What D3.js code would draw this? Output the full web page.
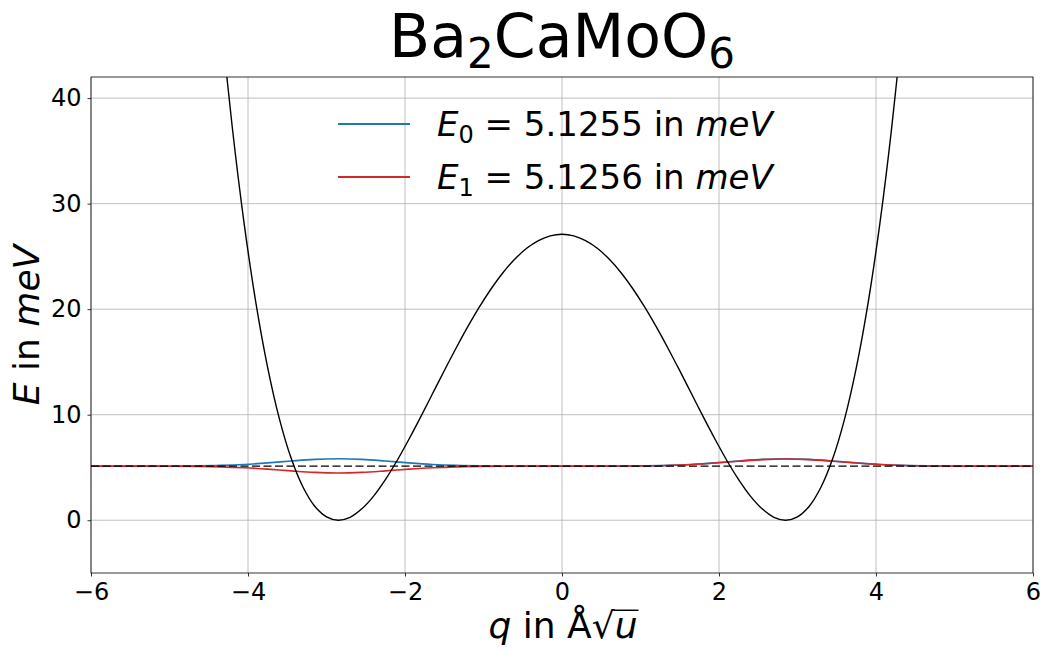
<!DOCTYPE html>
<html>
<head>
<meta charset="utf-8">
<script src="https://cdn.jsdelivr.net/npm/d3@7"></script>
<style>
    body { margin: 0; background: #fff; }
    svg { font-family: "DejaVu Sans", sans-serif; }
</style>
</head>
<body>
<div id="chart"></div>
<script>
// Double well potential + first two levels

const xTicks = [-6, -4, -2, 0, 2, 4, 6];
const yTicks = [0, 10, 20, 30, 40];

const levelE0 = 5.1255;
const levelE1 = 5.1256;

// potential V(q)
const potQ = [-4.35, -4.2, -4.05, -3.9, -3.75, -3.6, -3.45, -3.3, -3.15, -3.0,
    -2.85, -2.7, -2.55, -2.4, -2.25, -2.1, -1.95, -1.8, -1.65, -1.5,
    -1.35, -1.2, -1.05, -0.9, -0.75, -0.6, -0.45, -0.3, -0.15, 0,
    0.15, 0.3, 0.45, 0.6, 0.75, 0.9, 1.05, 1.2, 1.35, 1.5,
    1.65, 1.8, 1.95, 2.1, 2.25, 2.4, 2.55, 2.7, 2.85, 3.0,
    3.15, 3.3, 3.45, 3.6, 3.75, 3.9, 4.05, 4.2, 4.35];
const potE = [47.91, 37.21, 28.16, 20.63, 14.49, 9.61, 5.87, 3.15, 1.33, 0.32,
    0, 0.28, 1.08, 2.29, 3.85, 5.66, 7.67, 9.79, 11.98, 14.17,
    16.30, 18.34, 20.24, 21.96, 23.48, 24.75, 25.77, 26.50, 26.95, 27.10,
    26.95, 26.50, 25.77, 24.75, 23.48, 21.96, 20.24, 18.34, 16.30, 14.17,
    11.98, 9.79, 7.67, 5.66, 3.85, 2.29, 1.08, 0.28, 0, 0.32,
    1.33, 3.15, 5.87, 9.61, 14.49, 20.63, 28.16, 37.21, 47.91];

// wave functions, drawn as offsets from their level
const waveQ = [-6, -5.25, -4.95, -4.65, -4.35, -4.05, -3.75, -3.45, -3.15, -2.85,
    -2.55, -2.25, -1.95, -1.65, -1.35, -1.05, -0.75, -0.45, -0.15,
    0.15, 0.45, 0.75, 1.05, 1.35, 1.65, 1.95, 2.25, 2.55, 2.85,
    3.15, 3.45, 3.75, 4.05, 4.35, 4.65, 4.95, 5.25, 6];
const psi0 = [0, 0.002, 0.008, 0.026, 0.071, 0.161, 0.307, 0.485, 0.638, 0.70,
    0.638, 0.485, 0.307, 0.161, 0.071, 0.026, 0.008, 0.002, 0,
    0, 0.002, 0.008, 0.026, 0.071, 0.161, 0.307, 0.485, 0.638, 0.70,
    0.638, 0.485, 0.307, 0.161, 0.071, 0.026, 0.008, 0.002, 0];
const psi1 = [0, -0.002, -0.008, -0.025, -0.066, -0.150, -0.285, -0.450, -0.592, -0.65,
    -0.592, -0.450, -0.285, -0.150, -0.066, -0.025, -0.008, -0.002, 0,
    0, 0.002, 0.008, 0.025, 0.068, 0.155, 0.296, 0.468, 0.615, 0.675,
    0.615, 0.468, 0.296, 0.155, 0.068, 0.025, 0.008, 0.002, 0];

const width = 1046, height = 651;
const margin = { top: 77, right: 13, bottom: 78, left: 91 };

const svg = d3.select('#chart')
    .append('svg')
    .attr('width', width)
    .attr('height', height);

const x = d3.scaleLinear().domain([-6, 6]).range([margin.left, width - margin.right]);
const y = d3.scaleLinear().domain([-5, 42]).range([height - margin.bottom, margin.top]);

svg.append('clipPath').attr('id', 'plot-clip')
    .append('rect')
    .attr('x', margin.left).attr('y', margin.top)
    .attr('width', x.range()[1] - x.range()[0])
    .attr('height', y.range()[0] - y.range()[1]);

// Grid
const grid = svg.append('g').attr('stroke', '#b0b0b0').attr('stroke-width', 0.8);
grid.selectAll('.gx').data(xTicks).join('line')
    .attr('x1', d => x(d)).attr('x2', d => x(d))
    .attr('y1', y.range()[1]).attr('y2', y.range()[0]);
grid.selectAll('.gy').data(yTicks).join('line')
    .attr('y1', d => y(d)).attr('y2', d => y(d))
    .attr('x1', x.range()[0]).attr('x2', x.range()[1]);

// Curves
const plot = svg.append('g').attr('clip-path', 'url(#plot-clip)').attr('fill', 'none');

const waveLine = (level, psi) => d3.line()
    .x((d, i) => x(waveQ[i]))
    .y((d, i) => y(level + psi[i]))
    .curve(d3.curveCatmullRom)(waveQ);

plot.append('path')
    .attr('d', waveLine(levelE0, psi0))
    .attr('stroke', '#1f77b4').attr('stroke-width', 1.6);

plot.append('path')
    .attr('d', waveLine(levelE1, psi1))
    .attr('stroke', '#d62728').attr('stroke-width', 1.6);

plot.append('line')
    .attr('x1', x(-6)).attr('x2', x(6))
    .attr('y1', y(levelE0)).attr('y2', y(levelE0))
    .attr('stroke', '#000').attr('stroke-width', 1.4)
    .attr('stroke-dasharray', '8,3.5');

plot.append('path')
    .attr('d', d3.line()
        .x((d, i) => x(potQ[i]))
        .y(d => y(d))
        .curve(d3.curveCatmullRom)(potE))
    .attr('stroke', '#000').attr('stroke-width', 1.4);

// Axes
const xAxis = svg.append('g')
    .attr('transform', `translate(0,${y.range()[0]})`)
    .call(d3.axisBottom(x).tickValues(xTicks).tickSize(3.5).tickPadding(6));
const yAxis = svg.append('g')
    .attr('transform', `translate(${x.range()[0]},0)`)
    .call(d3.axisLeft(y).tickValues(yTicks).tickSize(3.5).tickPadding(6));

[xAxis, yAxis].forEach(a => {
    a.select('.domain').remove();
    a.selectAll('text').attr('font-size', 24).attr('fill', '#000')
        .attr('font-family', '"DejaVu Sans", sans-serif');
    a.selectAll('line').attr('stroke', '#000').attr('stroke-width', 0.8);
});

svg.append('rect')
    .attr('x', x.range()[0]).attr('y', y.range()[1])
    .attr('width', x.range()[1] - x.range()[0])
    .attr('height', y.range()[0] - y.range()[1])
    .attr('fill', 'none').attr('stroke', '#000').attr('stroke-width', 0.8);

// Title
const title = svg.append('text')
    .attr('x', 562).attr('y', 57)
    .attr('text-anchor', 'middle')
    .attr('font-size', 60);
title.append('tspan').text('Ba');
title.append('tspan').attr('font-size', 42).attr('dy', 11).text('2');
title.append('tspan').attr('dy', -11).text('CaMoO');
title.append('tspan').attr('font-size', 42).attr('dy', 11).text('6');

// Axis labels
const labelSize = 36;
const xLabel = svg.append('text')
    .attr('x', 563).attr('y', 638)
    .attr('text-anchor', 'middle')
    .attr('font-size', labelSize);
xLabel.append('tspan').attr('font-style', 'italic').text('q');
xLabel.append('tspan').text(' in Å√');
xLabel.append('tspan').attr('font-style', 'italic').text('u');

const xl = xLabel.node();
const n = xl.getNumberOfChars();
const barStart = xl.getEndPositionOfChar(n - 2).x - 1;
const barEnd = xl.getEndPositionOfChar(n - 1).x + 1;
svg.append('line')
    .attr('x1', barStart).attr('x2', barEnd)
    .attr('y1', 638 - labelSize * 0.77).attr('y2', 638 - labelSize * 0.77)
    .attr('stroke', '#000').attr('stroke-width', 1.5);

const yLabel = svg.append('text')
    .attr('transform', `translate(39,${(y.range()[0] + y.range()[1]) / 2}) rotate(-90)`)
    .attr('text-anchor', 'middle')
    .attr('font-size', labelSize);
yLabel.append('tspan').attr('font-style', 'italic').text('E');
yLabel.append('tspan').text(' in ');
yLabel.append('tspan').attr('font-style', 'italic').text('meV');

// Legend
const legendItems = [
    { sub: '0', value: levelE0.toFixed(4), color: '#1f77b4' },
    { sub: '1', value: levelE1.toFixed(4), color: '#d62728' }
];

const legend = svg.append('g')
    .selectAll('g')
    .data(legendItems)
    .join('g')
    .attr('transform', (d, i) => `translate(338,${124 + i * 53})`);

legend.append('line')
    .attr('x1', 0).attr('x2', 72)
    .attr('stroke', d => d.color).attr('stroke-width', 2);

const lt = legend.append('text')
    .attr('x', 99).attr('y', 12)
    .attr('font-size', 34)
    .attr('xml:space', 'preserve');
lt.append('tspan').attr('font-style', 'italic').text('E');
lt.append('tspan').attr('font-size', 24).attr('dy', 7).text(d => d.sub);
lt.append('tspan').attr('dy', -7).text(d => ` = ${d.value} in `);
lt.append('tspan').attr('font-style', 'italic').text('meV');
</script>
</body>
</html>
